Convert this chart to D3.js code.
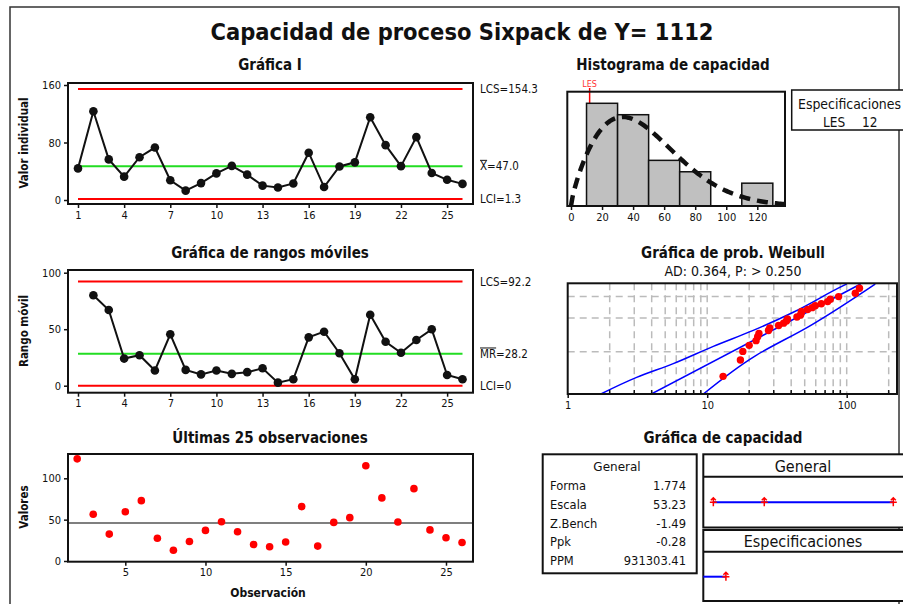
<!DOCTYPE html>
<html>
<head>
<meta charset="utf-8">
<script src="https://cdn.jsdelivr.net/npm/d3@7"></script>
<style>
body{margin:0;background:#fff}
svg text{font-family:"DejaVu Sans Condensed","DejaVu Sans",sans-serif;fill:#111}
</style>
</head>
<body>
<svg id="chart" width="903" height="604"></svg>
<script>
const obs = [1,2,3,4,5,6,7,8,9,10,11,12,13,14,15,16,17,18,19,20,21,22,23,24,25,26];
const values = [44,123.5,56.5,32.5,59.5,73,27.5,13,23.5,37,47.5,35.3,20,17.3,23,65.8,18,46.7,52.4,115.2,76.3,47.1,87.5,37.6,28.1,22.4];
// rangos moviles, obs 2..26
const mrObs = [2,3,4,5,6,7,8,9,10,11,12,13,14,15,16,17,18,19,20,21,22,23,24,25,26];
const mrValues = [80,67,24,27,13.5,45.5,14,10,13.5,10.5,12,15.4,2.7,5.7,42.8,47.8,28.7,5.7,62.8,38.9,29.2,40.4,49.9,9.5,5.7];

const iLimits = {lcs:154.3, center:47.0, lci:1.3};
const mrLimits = {lcs:92.2, center:28.2, lci:0};
const lastLine = 46;

const ctrlXTicks = [1,4,7,10,13,16,19,22,25];
const iYTicks = [0,80,160];
const mrYTicks = [0,50,100];
const lastXTicks = [5,10,15,20,25];
const lastYTicks = [0,50,100];

// histograma
const binEdges = [10,30,50,70,90,110,130];
const binCounts = [9,8,4,3,0,2];
const histXTicks = [0,20,40,60,80,100,120];
const les = 12;

// ajuste Weibull
const forma = 1.774, escala = 53.23;
const weibXTicks = [1,10,100];
const weibGridX = [2,3,4,5,6,7,8,9,10,20,30,40,50,60,70,80,90,100,200];
const weibGridP = [10,50,90];
// bandas de confianza [valor, % acumulado]
const bandLow = [[1.73,1],[3.12,2.5],[5.71,5.3],[11.06,13.3],[21.4,29.4],[41.4,61.6],[94.5,98.5],[100,99]];
const bandHigh = [[9.38,1],[22,8],[53.4,35],[160,99]];

// estadisticas
const statLabels = ["Forma","Escala","Z.Bench","Ppk","PPM"];
const statValues = ["1.774","53.23","-1.49","-0.28","931303.41"];
const generalInterval = [1.3,44.6,154.3];

const svg = d3.select("#chart");

svg.append("rect").attr("x",10).attr("y",7).attr("width",889).attr("height",620)
  .attr("fill","none").attr("stroke","#333").attr("stroke-width",1.5);

svg.append("text").attr("x",462).attr("y",40).attr("text-anchor","middle")
  .attr("font-size",23).attr("font-weight","bold")
  .attr("textLength",503).attr("lengthAdjust","spacingAndGlyphs")
  .text("Capacidad de proceso Sixpack de Y= 1112");

function title(x,y,t){
  svg.append("text").attr("x",x).attr("y",y).attr("text-anchor","middle")
    .attr("font-size",15).attr("font-weight","bold").text(t);
}
function frame(x0,y0,x1,y1,fill){
  return svg.append("rect").attr("x",x0).attr("y",y0).attr("width",x1-x0).attr("height",y1-y0)
    .attr("fill",fill||"none").attr("stroke","#111").attr("stroke-width",2);
}
function styleAxis(g){
  g.select(".domain").remove();
  g.selectAll("text").attr("font-size",11).attr("fill","#222");
  g.selectAll("line").attr("stroke","#111").attr("stroke-width",1.5);
}
function yLabel(y,t){
  svg.append("text").attr("transform",`translate(28,${y}) rotate(-90)`)
    .attr("text-anchor","middle").attr("font-size",11.5).attr("font-weight","bold").text(t);
}
function hline(x0,x1,y,color){
  svg.append("line").attr("x1",x0).attr("x2",x1).attr("y1",y).attr("y2",y)
    .attr("stroke",color).attr("stroke-width",2);
}
function sideLabel(y,t,bar){
  const tx = svg.append("text").attr("x",480).attr("y",y).attr("dy","0.36em")
    .attr("font-size",11.5).text(t);
  if(bar){
    const n = tx.node();
    const a = n.getExtentOfChar(0), b = n.getExtentOfChar(bar-1);
    svg.append("line").attr("x1",a.x).attr("x2",b.x+b.width).attr("y1",a.y+1).attr("y2",a.y+1)
      .attr("stroke","#111").attr("stroke-width",1);
  }
}

// ---------- Grafica I ----------
const xCtrl = d3.scaleLinear().domain([1,26]).range([78,462.5]);
const yI = d3.scaleLinear().domain([0,160]).range([200,85]);
title(270,70,"Gráfica I");
hline(xCtrl(1),xCtrl(26),yI(iLimits.lcs),"#ff0000");
hline(xCtrl(1),xCtrl(26),yI(iLimits.center),"#22dd22");
hline(xCtrl(1),xCtrl(26),yI(iLimits.lci),"#ff0000");
svg.append("path").datum(values)
  .attr("d",d3.line().x((d,i)=>xCtrl(obs[i])).y(d=>yI(d)))
  .attr("fill","none").attr("stroke","#111").attr("stroke-width",2);
svg.append("g").selectAll("circle").data(values).join("circle")
  .attr("cx",(d,i)=>xCtrl(obs[i])).attr("cy",d=>yI(d)).attr("r",4.3).attr("fill","#111");
frame(68,83,473,204);
svg.append("g").attr("transform","translate(68,0)")
  .call(d3.axisLeft(yI).tickValues(iYTicks).tickSize(4).tickPadding(3)).call(styleAxis);
svg.append("g").attr("transform","translate(0,204)")
  .call(d3.axisBottom(xCtrl).tickValues(ctrlXTicks).tickSize(4).tickPadding(3)).call(styleAxis);
sideLabel(yI(iLimits.lcs),"LCS=154.3");
sideLabel(yI(iLimits.center),"X=47.0",1);
sideLabel(yI(iLimits.lci),"LCI=1.3");
yLabel(143,"Valor individual");

// ---------- Rangos moviles ----------
const yM = d3.scaleLinear().domain([0,100]).range([385.7,272.7]);
title(270,258,"Gráfica de rangos móviles");
hline(xCtrl(1),xCtrl(26),yM(mrLimits.lcs),"#ff0000");
hline(xCtrl(1),xCtrl(26),yM(mrLimits.center),"#22dd22");
hline(xCtrl(1),xCtrl(26),yM(mrLimits.lci),"#ff0000");
svg.append("path").datum(mrValues)
  .attr("d",d3.line().x((d,i)=>xCtrl(mrObs[i])).y(d=>yM(d)))
  .attr("fill","none").attr("stroke","#111").attr("stroke-width",2);
svg.append("g").selectAll("circle").data(mrValues).join("circle")
  .attr("cx",(d,i)=>xCtrl(mrObs[i])).attr("cy",d=>yM(d)).attr("r",4.3).attr("fill","#111");
frame(68,270,473,392.7);
svg.append("g").attr("transform","translate(68,0)")
  .call(d3.axisLeft(yM).tickValues(mrYTicks).tickSize(4).tickPadding(3)).call(styleAxis);
svg.append("g").attr("transform","translate(0,392.7)")
  .call(d3.axisBottom(xCtrl).tickValues(ctrlXTicks).tickSize(4).tickPadding(3)).call(styleAxis);
sideLabel(yM(mrLimits.lcs),"LCS=92.2");
sideLabel(yM(mrLimits.center),"MR=28.2",2);
sideLabel(yM(mrLimits.lci),"LCI=0");
yLabel(331,"Rango móvil");

// ---------- Ultimas 25 observaciones ----------
const xL = d3.scaleLinear().domain([5,25]).range([125.3,446]);
const yL = d3.scaleLinear().domain([0,100]).range([561,478.3]);
title(270,443,"Últimas 25 observaciones");
svg.append("line").attr("x1",68).attr("x2",473).attr("y1",yL(lastLine)).attr("y2",yL(lastLine))
  .attr("stroke","#555").attr("stroke-width",1.5);
svg.append("g").selectAll("circle").data(mrObs).join("circle")
  .attr("cx",d=>xL(d)).attr("cy",(d,i)=>yL(values[i+1])).attr("r",3.8).attr("fill","#ff0000");
frame(68,454,473,561.7);
svg.append("g").attr("transform","translate(68,0)")
  .call(d3.axisLeft(yL).tickValues(lastYTicks).tickSize(4).tickPadding(3)).call(styleAxis);
svg.append("g").attr("transform","translate(0,561.7)")
  .call(d3.axisBottom(xL).tickValues(lastXTicks).tickSize(4).tickPadding(3)).call(styleAxis);
yLabel(507,"Valores");
svg.append("text").attr("x",268).attr("y",597).attr("text-anchor","middle")
  .attr("font-size",12).attr("font-weight","bold").text("Observación");

// ---------- Histograma ----------
const xH = d3.scaleLinear().domain([0,120]).range([571,757.3]);
const yH = d3.scaleLinear().domain([0,9]).range([206,103.3]);
title(673,70,"Histograma de capacidad");
svg.append("defs").append("clipPath").attr("id","clipH").append("rect")
  .attr("x",567.3).attr("y",91.7).attr("width",217.7).attr("height",114.3);
svg.append("line").attr("x1",xH(les)).attr("x2",xH(les)).attr("y1",88).attr("y2",206)
  .attr("stroke","#ff0000").attr("stroke-width",1.5);
svg.append("text").attr("x",xH(les)).attr("y",87).attr("text-anchor","middle")
  .attr("font-size",9).style("fill","#ff3333").text("LES");
svg.append("g").selectAll("rect").data(binCounts.map((c,i)=>({c,a:binEdges[i],b:binEdges[i+1]})).filter(d=>d.c>0))
  .join("rect")
  .attr("x",d=>xH(d.a)).attr("width",d=>xH(d.b)-xH(d.a))
  .attr("y",d=>yH(d.c)).attr("height",d=>yH(0)-yH(d.c))
  .attr("fill","#c0c0c0").attr("stroke","#111").attr("stroke-width",1.5);
const binW = binEdges[1]-binEdges[0];
const nObs = values.length;
const dens = x => x<=0 ? 0 : (forma/escala)*Math.pow(x/escala,forma-1)*Math.exp(-Math.pow(x/escala,forma));
const xsDens = d3.range(0,140,1);
svg.append("path").datum(xsDens).attr("clip-path","url(#clipH)")
  .attr("d",d3.line().x(d=>xH(d)).y(d=>yH(nObs*binW*dens(d))))
  .attr("fill","none").attr("stroke","#111").attr("stroke-width",4.5).attr("stroke-dasharray","11,7");
frame(567.3,91.7,785,206);
svg.append("g").attr("transform","translate(0,206)")
  .call(d3.axisBottom(xH).tickValues(histXTicks).tickSize(4).tickPadding(3)).call(styleAxis);

frame(791.7,90,915,130,"#fff").attr("stroke-width",1.5);
svg.append("text").attr("x",798).attr("y",109).attr("font-size",13.5)
  .attr("textLength",103).attr("lengthAdjust","spacingAndGlyphs").text("Especificaciones");
svg.append("text").attr("x",823).attr("y",127).attr("font-size",13.5).text("LES");
svg.append("text").attr("x",862).attr("y",127).attr("font-size",13.5).text(les);

// ---------- Weibull ----------
const xW = d3.scaleLog().domain([1,100]).range([567.7,846.7]);
const zOf = p => Math.log(-Math.log(1-p/100));
const yW = d3.scaleLinear().domain([zOf(1),zOf(99)]).range([394,284]);
const wx0=567.7, wx1=897, wy0=283.3, wy1=394;
title(733,258,"Gráfica de prob. Weibull");
svg.append("text").attr("x",733).attr("y",276).attr("text-anchor","middle")
  .attr("font-size",14).text("AD: 0.364, P: > 0.250");
svg.append("rect").attr("x",wx0).attr("y",wy0).attr("width",wx1-wx0).attr("height",wy1-wy0).attr("fill","#fff");
svg.append("defs").append("clipPath").attr("id","clipW").append("rect")
  .attr("x",wx0).attr("y",wy0).attr("width",wx1-wx0).attr("height",wy1-wy0);
const gW = svg.append("g").attr("clip-path","url(#clipW)");
gW.selectAll("line.gx").data(weibGridX).join("line").attr("class","gx")
  .attr("x1",d=>xW(d)).attr("x2",d=>xW(d)).attr("y1",wy0).attr("y2",wy1)
  .attr("stroke","#bbb").attr("stroke-width",1.5).attr("stroke-dasharray","7,5");
gW.selectAll("line.gy").data(weibGridP).join("line").attr("class","gy")
  .attr("x1",wx0).attr("x2",wx1).attr("y1",d=>yW(zOf(d))).attr("y2",d=>yW(zOf(d)))
  .attr("stroke","#bbb").attr("stroke-width",1.5).attr("stroke-dasharray","7,5");
const bandLine = d3.line().x(d=>xW(d[0])).y(d=>yW(zOf(d[1]))).curve(d3.curveMonotoneY);
gW.append("path").datum(bandLow).attr("d",bandLine).attr("fill","none").attr("stroke","#0000ff").attr("stroke-width",1.5);
gW.append("path").datum(bandHigh).attr("d",bandLine).attr("fill","none").attr("stroke","#0000ff").attr("stroke-width",1.5);
const fitPct = [1,99];
gW.append("path").datum(fitPct)
  .attr("d",d3.line().x(p=>xW(escala*Math.pow(-Math.log(1-p/100),1/forma))).y(p=>yW(zOf(p))))
  .attr("fill","none").attr("stroke","#0000ff").attr("stroke-width",1.5);
const sorted = values.slice().sort((a,b)=>a-b);
gW.selectAll("circle").data(sorted).join("circle")
  .attr("cx",d=>xW(d)).attr("cy",(d,i)=>yW(zOf(100*(i+1-0.3)/(nObs+0.4)))).attr("r",3.7).attr("fill","#ff0000");
frame(wx0,wy0,wx1,wy1);
svg.append("g").attr("transform",`translate(0,${wy1})`)
  .call(d3.axisBottom(xW).tickValues(weibXTicks).tickFormat(d3.format("d")).tickSize(4).tickPadding(3)).call(styleAxis);
svg.append("g").selectAll("line").data(weibGridX.filter(d=>d!==10&&d!==100)).join("line")
  .attr("x1",d=>xW(d)).attr("x2",d=>xW(d)).attr("y1",wy1).attr("y2",wy1-4)
  .attr("stroke","#111").attr("stroke-width",1.5);

// ---------- Grafica de capacidad ----------
title(723,443,"Gráfica de capacidad");
frame(542.7,454.3,696.7,573.3,"#fff");
svg.append("text").attr("x",617).attr("y",471).attr("text-anchor","middle")
  .attr("font-size",12).style("font-family","DejaVu Sans").text("General");
svg.append("g").selectAll("text").data(statLabels).join("text")
  .attr("x",550).attr("y",(d,i)=>490+i*18.75).attr("font-size",11.5).style("font-family","DejaVu Sans").text(d=>d);
svg.append("g").selectAll("text").data(statValues).join("text")
  .attr("x",686).attr("y",(d,i)=>490+i*18.75).attr("text-anchor","end").attr("font-size",11.5).style("font-family","DejaVu Sans").text(d=>d);

frame(703.3,454.3,915,527.5,"#fff");
frame(703.3,530,915,601,"#fff");
hline(703.3,915,476.7,"#111");
hline(703.3,915,551.7,"#111");
svg.append("text").attr("x",803).attr("y",471.5).attr("text-anchor","middle").attr("font-size",16).text("General");
svg.append("text").attr("x",803).attr("y",547).attr("text-anchor","middle").attr("font-size",16).text("Especificaciones");

const xC = d3.scaleLinear().domain([0,154.3]).range([711.8,893.3]);
function marker(x,y){
  svg.append("path").attr("d",`M${x},${y-4}V${y+4}M${x-3.5},${y}H${x+3.5}M${x-2.5},${y-2}L${x},${y-4.5}L${x+2.5},${y-2}`)
    .attr("fill","none").attr("stroke","#ff0000").attr("stroke-width",1.5);
}
svg.append("line").attr("x1",xC(generalInterval[0])).attr("x2",xC(generalInterval[2]))
  .attr("y1",502.3).attr("y2",502.3).attr("stroke","#0000ff").attr("stroke-width",2);
generalInterval.forEach(v=>marker(xC(v),502.3));
svg.append("line").attr("x1",703.3).attr("x2",xC(les)).attr("y1",576.7).attr("y2",576.7)
  .attr("stroke","#0000ff").attr("stroke-width",2);
marker(xC(les),576.7);
</script>
</body>
</html>
